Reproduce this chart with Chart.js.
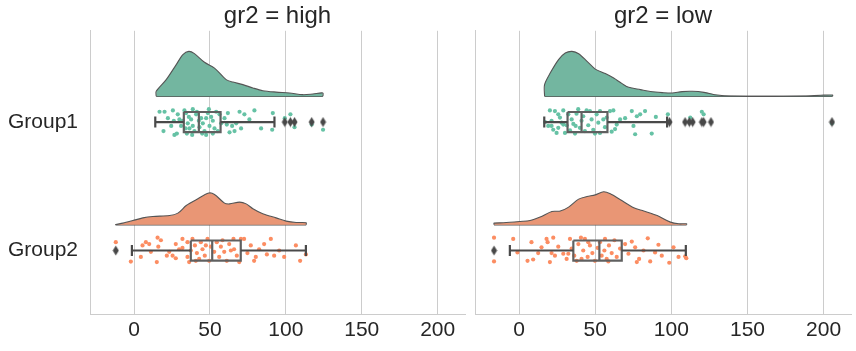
<!DOCTYPE html>
<html>
<head>
<meta charset="utf-8">
<script src="https://cdn.jsdelivr.net/npm/chart.js@4.4.0/dist/chart.umd.min.js"></script>
<style>
  body { margin: 0; background: #fff; }
  #wrap { position: relative; width: 856px; height: 351px; }
  canvas { position: absolute; top: 0; }
</style>
</head>
<body>
<div id="wrap">
  <canvas id="chartHigh" width="470" height="351" style="left:0px"></canvas>
  <canvas id="chartLow" width="386" height="351" style="left:470px"></canvas>
</div>
<script>
//Categories and axis ticks
const groups = ['Group1', 'Group2'];
const xTicks = [0, 50, 100, 150, 200];
const xMin = -29, xMax = 218;
const yMin = -0.71, yMax = 1.494;

//Half violins: x positions and density heights (category units)
const highG1ViolinX = [14.6, 21.2, 27.8, 32.2, 36.1, 39.8, 46.4, 53.0, 60.7, 65.1, 71.7, 78.3, 84.8, 93.6, 102.4, 111.2, 117.8, 124.4];
const highG1ViolinH = [0.039, 0.130, 0.247, 0.325, 0.350, 0.332, 0.265, 0.220, 0.130, 0.111, 0.091, 0.065, 0.044, 0.033, 0.026, 0.013, 0.018, 0.026];
const highG2ViolinX = [-12.2, -7.4, -0.8, 5.8, 12.4, 23.4, 28.9, 34.4, 40.9, 49.3, 53.0, 59.6, 62.9, 69.5, 73.9, 78.3, 84.8, 93.6, 100.2, 106.8, 113.4];
const highG2ViolinH = [0.002, 0.013, 0.033, 0.054, 0.065, 0.072, 0.091, 0.150, 0.195, 0.247, 0.236, 0.169, 0.163, 0.177, 0.163, 0.125, 0.086, 0.054, 0.029, 0.018, 0.016];
const lowG1ViolinX = [16.7, 20.4, 25.9, 30.3, 34.7, 39.1, 44.6, 50.0, 56.6, 62.1, 67.6, 72.0, 79.7, 86.3, 94.0, 100.5, 107.1, 113.7, 121.4, 130.2, 139.0, 187.2, 198.2, 205.9];
const lowG1ViolinH = [0.091, 0.181, 0.286, 0.337, 0.350, 0.332, 0.272, 0.212, 0.177, 0.142, 0.099, 0.070, 0.052, 0.037, 0.029, 0.026, 0.037, 0.039, 0.031, 0.010, 0.002, 0.002, 0.008, 0.010];
const lowG2ViolinX = [-16.5, -10.3, 0.7, 7.2, 13.8, 21.5, 27.0, 32.5, 39.1, 44.6, 50.0, 55.5, 59.9, 66.5, 75.3, 81.9, 90.7, 99.4, 104.9, 110.0];
const lowG2ViolinH = [0.013, 0.016, 0.026, 0.033, 0.060, 0.104, 0.107, 0.138, 0.200, 0.220, 0.233, 0.257, 0.241, 0.195, 0.132, 0.107, 0.072, 0.021, 0.008, 0.008];

//Strip points: [value, jitter]
const highG1Points = [[16.8,-0.08],[20.1,-0.08],[25.6,-0.09],[22.3,-0.03],[29.9,-0.02],[26.2,-0.01],[24.5,0.03],[19.4,0.07],[26.6,0.10],[28.2,0.09],
  [28.8,-0.06],[31.0,0.03],[33.2,-0.09],[34.3,-0.07],[36.1,-0.04],[37.6,-0.02],[35.4,0.01],[38.7,0.03],[36.5,0.05],[39.8,0.07],
  [38.3,0.10],[33.9,0.05],[34.8,0.09],[40.9,-0.06],[41.4,-0.08],[44.2,-0.03],[45.3,0.01],[43.1,0.04],[46.4,0.07],[47.5,0.10],
  [48.6,-0.07],[50.8,-0.04],[51.9,-0.01],[49.7,0.03],[53.0,0.05],[55.2,0.07],[54.1,-0.08],[56.3,-0.06],[47.5,-0.03],[42.7,-0.01],
  [49.3,-0.10],[59.6,-0.03],[61.8,-0.07],[61.1,0.02],[64.6,0.03],[62.9,0.08],[66.2,0.07],[67.3,0.01],[69.5,-0.08],[72.7,-0.06],
  [76.0,-0.02],[79.3,-0.09],[83.7,0.05],[91.4,-0.07],[91.0,0.06],[32.1,-0.01],[38.7,-0.10],[44.9,0.09],[51.9,0.09],[57.4,0.01],
  [70.5,0.05],[99.3,-0.03],[103.0,-0.06],[105.7,0.04],[117.0,0.02],[124.5,0.06]];
const highG2Points = [[-12.0,-0.065],[-2.1,0.086],[5.6,-0.04],[7.8,-0.065],[4.5,0.05],[11.1,0.01],[15.0,0.09],[15.5,-0.10],[17.7,-0.08],[16.0,-0.03],
  [23.2,0.01],[25.4,0.04],[27.5,0.06],[29.7,-0.01],[31.9,-0.02],[35.2,-0.065],[35.2,0.05],[36.3,0.09],[38.5,-0.09],[40.1,-0.04],
  [41.4,0.02],[42.9,0.065],[44.0,-0.065],[45.1,-0.01],[46.6,0.04],[48.4,-0.09],[49.5,0.08],[50.6,-0.03],[52.8,0.01],[54.5,-0.065],
  [56.1,0.05],[57.2,-0.03],[59.4,0.01],[61.1,0.08],[62.7,-0.05],[65.5,-0.09],[65.9,-0.01],[67.7,0.04],[69.3,0.09],[70.4,-0.09],
  [72.5,-0.09],[74.7,0.02],[76.9,-0.04],[79.1,0.08],[80.2,0.05],[82.4,-0.01],[85.7,-0.05],[87.5,0.03],[90.1,-0.09],[92.3,0.04],
  [95.6,0.0],[98.9,0.05],[106.6,-0.04],[109.4,0.08],[113.2,0.03],[31.9,-0.09],[40.7,0.08],[47.3,-0.04],[58.3,-0.08],[63.8,0.0],
  [37.4,0.0],[27.5,-0.05],[21.6,0.04],[10.0,-0.05]];
const lowG1Points = [[20.2,-0.09],[23.5,-0.085],[21.3,0.03],[22.4,0.06],[24.6,0.085],[25.7,0.045],[26.8,-0.035],[27.9,0.005],[29.0,-0.09],[30.1,0.085],
  [31.2,0.025],[32.3,-0.06],[33.4,0.065],[34.5,-0.02],[35.6,0.015],[36.7,0.09],[37.7,-0.065],[38.8,-0.10],[39.9,0.045],[41.0,-0.01],
  [42.1,-0.045],[43.2,0.07],[44.3,-0.09],[45.4,0.025],[46.5,-0.085],[47.6,-0.02],[48.7,0.06],[50.9,-0.06],[52.0,0.005],[53.1,0.085],
  [55.3,-0.02],[56.4,0.04],[59.7,-0.085],[61.9,-0.09],[60.8,0.075],[63.0,0.055],[66.3,-0.02],[69.6,-0.03],[74.0,-0.085],[75.1,0.03],
  [77.3,-0.045],[79.5,-0.06],[82.7,-0.085],[87.1,0.09],[89.8,-0.04],[76.2,0.095],[97.7,-0.06],[120.0,-0.08],[112.4,-0.035],[121.2,-0.06],
  [25.7,-0.06],[21.3,-0.01],[19.1,0.03],[29.0,0.02],[37.1,0.03],[49.8,0.09],[53.1,-0.085],[57.5,-0.035],[64.1,0.02],[17.0,0.0],
  [205.5,0.01]];
const lowG2Points = [[-16.5,-0.10],[-16.5,0.085],[-3.9,-0.09],[-1.1,0.015],[5.5,0.08],[9.2,0.07],[14.7,-0.025],[18.7,-0.065],[21.3,0.02],[18.0,-0.09],
  [22.4,-0.10],[23.5,0.04],[20.2,0.09],[25.7,-0.03],[29.0,0.025],[31.2,0.065],[33.4,-0.09],[34.5,-0.015],[36.2,0.04],[37.8,0.08],
  [38.9,-0.05],[40.6,-0.10],[42.1,0.0],[43.2,-0.09],[45.0,0.05],[46.5,-0.04],[48.1,0.02],[49.8,0.08],[51.6,-0.02],[53.1,-0.065],
  [54.2,0.04],[56.0,0.0],[57.5,0.065],[59.0,-0.04],[60.8,0.02],[62.6,-0.08],[64.1,0.05],[66.3,-0.015],[69.6,-0.05],[71.8,0.025],
  [74.0,-0.07],[76.2,-0.025],[78.8,0.065],[81.7,0.0],[84.5,-0.095],[86.1,0.085],[89.3,0.015],[91.5,-0.045],[93.7,0.04],[98.6,0.095],
  [101.4,-0.025],[104.7,0.05],[109.1,0.045],[32.3,0.025],[41.0,0.065],[45.4,-0.065],[56.4,-0.09],[58.6,0.085],[12.5,0.02],[8.1,-0.065],
  [77.3,0.09],[109.8,0.06]];

//Box stats: [whisker low, Q1, median, Q3, whisker high]
const highG1Box = [14.0, 32.8, 42.7, 57.0, 92.5];
const highG2Box = [-1.4, 37.4, 51.5, 70.3, 113.2];
const lowG1Box = [16.5, 31.8, 41.0, 58.0, 97.2];
const lowG2Box = [-6.1, 35.6, 52.7, 67.4, 109.5];

//Outliers
const highG1Out = [99.3, 103.0, 105.7, 117.0, 124.5];
const highG2Out = [-12.0];
const lowG1Out = [98.8, 109.0, 111.8, 114.0, 120.0, 121.2, 126.0, 205.5];
const lowG2Out = [-16.5];

//Style
const FONT = "'Liberation Sans', Arial, sans-serif";
const TEXT = '#262626';
const SPINE = '#cccccc';
const greenFill = 'rgb(115,182,160)', greenDot = '#66c2a5';
const orangeFill = 'rgb(233,150,117)', orangeDot = '#fc8d62';
const VIOLIN_OFFSET = 0.2, BOX_HALF = 0.078, CAP_HALF = 0.043;

function diamond() {
  var c = document.createElement('canvas');
  c.width = 7; c.height = 11;
  var g = c.getContext('2d');
  g.fillStyle = '#484848';
  g.beginPath();
  g.moveTo(3.5, 0.5); g.lineTo(6.5, 5.5); g.lineTo(3.5, 10.5); g.lineTo(0.5, 5.5);
  g.closePath(); g.fill();
  return c;
}
const diamondImg = diamond();

function groupDatasets(row, vx, vh, pts, box, out, fill, dot) {
  var base = row - VIOLIN_OFFSET;
  var violin = [{ x: vx[0], y: base }];
  vx.forEach((x, i) => violin.push({ x: x, y: base - vh[i] }));
  violin.push({ x: vx[vx.length - 1], y: base });

  var wlo = box[0], q1 = box[1], med = box[2], q3 = box[3], whi = box[4];
  var top = row - BOX_HALF, bot = row + BOX_HALF;
  var boxLines = [
    { x: q1, y: top }, { x: q3, y: top }, { x: q3, y: bot }, { x: q1, y: bot }, { x: q1, y: top }, { x: q1, y: null },
    { x: med, y: top }, { x: med, y: bot }
  ];
  var whiskers = [
    { x: wlo, y: row }, { x: q1, y: row }, { x: q1, y: null },
    { x: q3, y: row }, { x: whi, y: row }, { x: whi, y: null },
    { x: wlo, y: row - CAP_HALF }, { x: wlo, y: row + CAP_HALF }, { x: wlo, y: null },
    { x: whi, y: row - CAP_HALF }, { x: whi, y: row + CAP_HALF }
  ];
  var line = { pointRadius: 0, pointHitRadius: 0, spanGaps: false };
  return [
    Object.assign({ data: violin, borderColor: '#555555', borderWidth: 1.1, backgroundColor: fill,
      fill: { value: base }, tension: 0.3, order: 4 }, line),
    Object.assign({ data: [{ x: vx[0], y: base }, { x: vx[vx.length - 1], y: base }],
      borderColor: '#555555', borderWidth: 1.1, fill: false, order: 4 }, line),
    { data: pts.map(p => ({ x: p[0], y: row + p[1] })), showLine: false, pointRadius: 2.1,
      pointBackgroundColor: dot, pointBorderWidth: 0, order: 3 },
    Object.assign({ data: boxLines, borderColor: '#606060', borderWidth: 2.2, fill: false, order: 2 }, line),
    Object.assign({ data: whiskers, borderColor: '#4a4a4a', borderWidth: 2.2, fill: false, order: 1 }, line),
    { data: out.map(v => ({ x: v, y: row })), showLine: false, pointStyle: diamondImg, pointRadius: 4, order: 0 }
  ];
}

function buildFacet(canvasId, title, datasets, showLabels) {
  return new Chart(document.getElementById(canvasId), {
    type: 'line',
    data: { datasets: datasets },
    options: {
      responsive: false,
      animation: false,
      events: [],
      layout: { padding: { right: 5 } },
      plugins: {
        legend: { display: false },
        tooltip: { enabled: false },
        title: {
          display: true, text: title, color: TEXT, fullSize: false,
          font: { family: FONT, size: 24, weight: 'normal' },
          padding: { top: 2, bottom: 0 }
        }
      },
      scales: {
        x: {
          type: 'linear', min: xMin, max: xMax,
          afterBuildTicks: s => { s.ticks = xTicks.map(v => ({ value: v })); },
          afterFit: s => { s.height = 37; },
          grid: { color: SPINE, lineWidth: 1, drawTicks: false },
          border: { color: SPINE, width: 1 },
          ticks: { color: TEXT, font: { family: FONT, size: 21 }, padding: 4, maxRotation: 0 }
        },
        y: {
          type: 'linear', reverse: true, min: yMin, max: yMax,
          afterBuildTicks: s => { s.ticks = groups.map((g, i) => ({ value: i })); },
          afterFit: s => { s.width = showLabels ? 90 : 5; },
          grid: { display: false, drawTicks: false },
          border: { color: SPINE, width: 1 },
          ticks: { display: showLabels, callback: v => groups[v], color: TEXT,
            font: { family: FONT, size: 21 }, padding: 12 }
        }
      }
    }
  });
}

const chartHigh = buildFacet('chartHigh', 'gr2 = high',
  groupDatasets(0, highG1ViolinX, highG1ViolinH, highG1Points, highG1Box, highG1Out, greenFill, greenDot)
    .concat(groupDatasets(1, highG2ViolinX, highG2ViolinH, highG2Points, highG2Box, highG2Out, orangeFill, orangeDot)),
  true);
const chartLow = buildFacet('chartLow', 'gr2 = low',
  groupDatasets(0, lowG1ViolinX, lowG1ViolinH, lowG1Points, lowG1Box, lowG1Out, greenFill, greenDot)
    .concat(groupDatasets(1, lowG2ViolinX, lowG2ViolinH, lowG2Points, lowG2Box, lowG2Out, orangeFill, orangeDot)),
  false);
</script>
</body>
</html>
